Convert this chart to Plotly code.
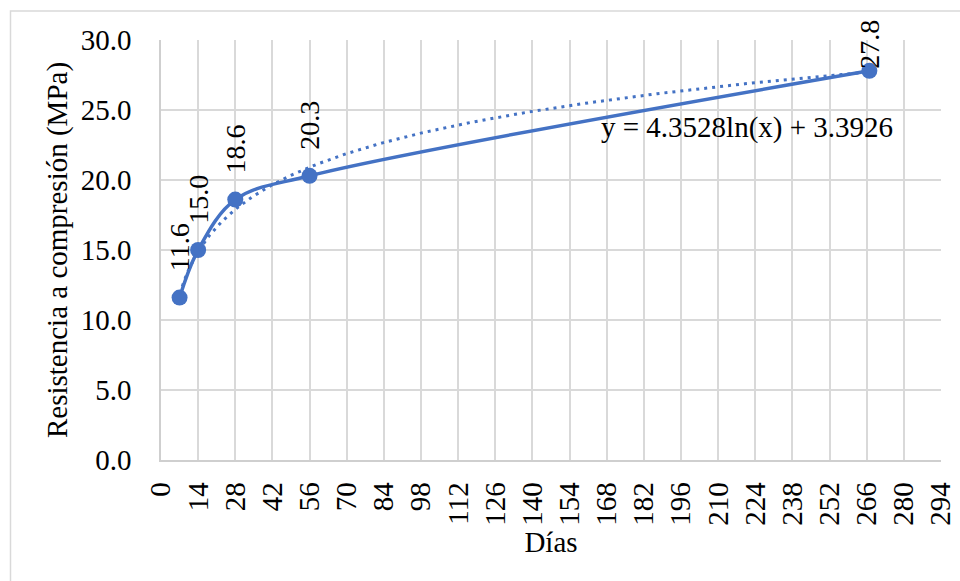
import numpy as np
import plotly.graph_objects as go

# Compressive strength vs. curing age
dias = [7, 14, 28, 56, 267]
resistencia = [11.6, 15.0, 18.6, 20.3, 27.8]

# Logarithmic trendline coefficients: y = a*ln(x) + b
coef_a = 4.3528
coef_b = 3.3926

x_ticks = list(range(0, 295, 14))
y_ticks = [0, 5, 10, 15, 20, 25, 30]

AZUL = "#4472C4"
GRIS = "#d9d9d9"
FUENTE = "'Liberation Serif', 'Times New Roman', 'DejaVu Serif', serif"

x_trend = np.linspace(min(dias), max(dias), 300)
y_trend = coef_a * np.log(x_trend) + coef_b

fig = go.Figure()

fig.add_trace(go.Scatter(
    x=dias, y=resistencia, mode="lines+markers",
    line=dict(color=AZUL, width=3.5, shape="spline", smoothing=1),
    marker=dict(color=AZUL, size=16),
    showlegend=False, hoverinfo="x+y",
))

fig.add_trace(go.Scatter(
    x=x_trend, y=y_trend, mode="lines",
    line=dict(color=AZUL, width=3, dash="3px,5px"),
    showlegend=False, hoverinfo="skip",
))

# Data labels, rotated, above each point
shifts = [24, 24, 24, 24, 0]
for xv, yv, s in zip(dias, resistencia, shifts):
    fig.add_annotation(
        x=xv, y=yv, text=f"{yv:.1f}", showarrow=False,
        textangle=-90, xanchor="center", yanchor="bottom", yshift=s,
        font=dict(family=FUENTE, size=28, color="black"),
    )

# Trendline equation
fig.add_annotation(
    x=221, y=23.75, text=f"y = {coef_a}ln(x) + {coef_b}", showarrow=False,
    xanchor="center", yanchor="middle",
    font=dict(family=FUENTE, size=29, color="black"),
)

# Chart-area border
fig.add_shape(
    type="rect", xref="paper", yref="paper",
    x0=(10.5 - 161) / 780, x1=1.1,
    y0=-0.4, y1=(460 - 10.5) / 420.5,
    line=dict(color=GRIS, width=1.5), layer="below",
)

fig.update_layout(
    width=960, height=581,
    margin=dict(l=161, r=19, t=39.5, b=121, autoexpand=False),
    paper_bgcolor="white", plot_bgcolor="white",
    font=dict(family=FUENTE, size=29, color="black"),
)

fig.update_xaxes(
    range=[0, 294], tickvals=x_ticks, ticktext=[str(v) for v in x_ticks],
    tickangle=-90, showgrid=True, gridcolor=GRIS, gridwidth=1.5,
    zeroline=False, showline=True, linecolor="#cfcfcf", linewidth=1.5,
    ticks="", ticklabelstandoff=9,
    tickfont=dict(family=FUENTE, size=29, color="black"),
    title=dict(text="Días", standoff=0,
               font=dict(family=FUENTE, size=29, color="black")),
    automargin=False,
)

fig.update_yaxes(
    range=[0, 30], tickvals=y_ticks, ticktext=[f"{v:.1f}" for v in y_ticks],
    showgrid=True, gridcolor=GRIS, gridwidth=1.5,
    zeroline=False, showline=True, linecolor="#cfcfcf", linewidth=1.5,
    ticks="", ticklabelstandoff=22,
    tickfont=dict(family=FUENTE, size=29, color="black"),
    title=dict(text="Resistencia a compresión (MPa)", standoff=5,
               font=dict(family=FUENTE, size=29, color="black")),
    automargin=False,
)

fig.write_html("out.html")
